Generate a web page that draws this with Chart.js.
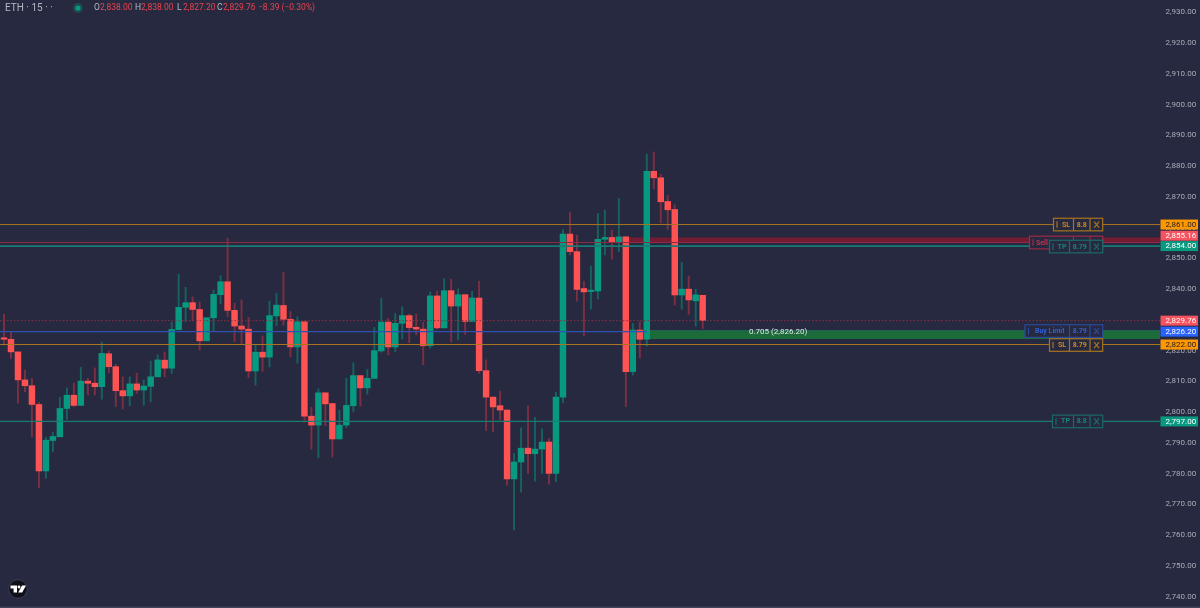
<!DOCTYPE html>
<html>
<head>
<meta charset="utf-8">
<title>ETH 15</title>
<script src="https://cdn.jsdelivr.net/npm/chart.js@4"></script>
<style>
  html, body { margin: 0; padding: 0; background: #26293f; overflow: hidden; }
  canvas { display: block; }
</style>
</head>
<body>
<canvas id="chart" width="1200" height="608"></canvas>
<script>
const opens = [
  2824.0,2823.7,2819.6,2810.5,2808.6,2802.5,2780.9,2790.8,2792.0,2801.2,
  2805.5,2802.2,2810.1,2809.4,2808.3,2819.0,2814.8,2807.0,2805.3,2809.2,
  2807.2,2808.4,2811.5,2816.9,2814.3,2826.8,2834.1,2835.6,2833.4,2823.2,
  2830.7,2838.2,2842.4,2833.1,2828.0,2827.0,2813.4,2819.5,2817.9,2831.3,
  2834.7,2830.2,2821.2,2829.4,2798.7,2795.8,2806.3,2802.8,2791.3,2795.8,
  2802.1,2811.9,2807.9,2811.0,2819.9,2829.3,2821.2,2828.9,2831.4,2827.6,
  2827.0,2821.6,2837.8,2827.4,2839.5,2834.5,2838.2,2829.5,2837.1,2813.5,
  2804.9,2802.1,2800.7,2778.3,2783.8,2788.3,2786.5,2788.0,2790.3,2780.1,
  2804.9,2857.9,2852.2,2840.2,2839.2,2839.4,2856.2,2856.8,2855.1,2857.0,
  2813.2,2826.7,2823.7,2878.3,2876.2,2868.5,2865.9,2838.1,2840.0,2836.2,
  2838.00
];
const highs = [
  2831.8,2826.2,2819.6,2813.7,2811.0,2803.2,2791.8,2793.4,2804.8,2807.9,
  2809.4,2814.6,2811.0,2814.4,2822.8,2819.9,2815.6,2811.5,2811.5,2812.7,
  2810.5,2816.6,2818.7,2819.6,2829.3,2844.9,2840.6,2837.5,2835.9,2830.7,
  2839.7,2844.4,2856.6,2835.4,2836.5,2830.8,2821.8,2824.8,2836.1,2838.6,
  2845.5,2832.7,2831.0,2829.4,2801.6,2807.6,2806.3,2802.8,2800.7,2811.0,
  2816.1,2811.9,2813.9,2827.5,2837.0,2830.5,2832.1,2834.3,2831.9,2831.9,
  2829.2,2839.1,2839.4,2843.4,2843.2,2840.1,2838.2,2839.3,2842.6,2817.0,
  2804.9,2806.8,2800.7,2786.6,2794.9,2802.0,2798.3,2794.6,2791.4,2806.5,
  2859.4,2865.0,2857.6,2842.6,2847.5,2864.6,2865.7,2859.2,2869.5,2857.0,
  2828.9,2829.4,2883.9,2884.6,2877.3,2870.5,2867.4,2848.7,2844.3,2840.0,
  2838.00
];
const lows = [
  2821.8,2817.4,2802.9,2806.6,2792.0,2775.4,2778.5,2787.1,2792.0,2797.7,
  2801.8,2802.2,2805.6,2805.6,2804.2,2812.8,2801.8,2801.0,2802.1,2806.1,
  2802.3,2803.4,2811.5,2811.5,2812.6,2826.8,2829.4,2829.7,2820.2,2823.2,
  2826.2,2835.2,2831.0,2822.9,2822.2,2811.2,2808.8,2813.2,2814.7,2828.1,
  2828.3,2818.0,2815.9,2796.7,2788.0,2785.2,2795.6,2785.4,2791.3,2794.9,
  2800.2,2802.0,2805.9,2811.0,2819.5,2818.6,2819.7,2823.8,2822.6,2825.1,
  2815.4,2820.8,2827.0,2827.4,2822.8,2823.6,2825.3,2829.5,2812.6,2794.0,
  2793.6,2797.5,2776.2,2761.7,2774.0,2780.1,2777.6,2780.1,2776.6,2777.4,
  2803.1,2851.1,2836.1,2824.9,2833.5,2836.8,2851.1,2849.7,2852.2,2801.8,
  2812.1,2817.6,2821.5,2872.6,2861.5,2859.4,2834.8,2833.5,2831.8,2828.0,
  2827.20
];
const closes = [
  2823.7,2819.6,2810.5,2808.6,2802.5,2780.9,2790.9,2792.1,2801.2,2805.5,
  2802.2,2810.1,2809.4,2808.3,2819.1,2814.8,2807.0,2805.3,2809.2,2807.2,
  2808.5,2811.5,2817.0,2814.3,2826.9,2834.1,2835.6,2833.4,2823.2,2830.7,
  2838.3,2842.4,2833.1,2828.0,2827.0,2813.4,2819.5,2817.9,2831.4,2834.8,
  2830.2,2821.2,2829.4,2798.7,2795.8,2806.3,2802.7,2791.3,2795.8,2802.2,
  2811.9,2807.9,2811.0,2820.0,2829.3,2821.2,2828.9,2831.4,2827.5,2827.0,
  2821.6,2837.8,2827.4,2839.5,2834.5,2838.2,2829.5,2837.1,2813.5,2804.9,
  2801.7,2800.7,2778.3,2783.8,2788.3,2786.5,2788.0,2790.3,2780.1,2804.9,
  2857.9,2852.2,2839.9,2839.1,2839.4,2856.2,2856.8,2855.1,2857.0,2813.2,
  2826.7,2823.7,2878.3,2876.2,2868.4,2865.8,2838.1,2840.0,2836.5,2838.15,
  2829.76
];

// stop, target and pending levels with the tag shown on the price axis
const levelValues = [2861.00, 2855.16, 2854.00, 2829.76, 2826.20, 2822.00, 2797.00];
const levelColors = ['#a8741f', '#8c2b45', '#1a7a74', '#8c3040', '#2f50b0', '#a8741f', '#1a7a74'];
const levelWidths = [1, 1.2, 1.8, 1, 1.2, 1, 1.2];
const tagFills = ['#ff9800', '#f7525f', '#089981', '#f7525f', '#2962ff', '#ff9800', '#089981'];
const tagTexts = ['#1a1c2c', '#ffffff', '#ffffff', '#ffffff', '#ffffff', '#1a1c2c', '#ffffff'];
const tagShift = [0, -6.8, 0, 0, 0, 0, 0];
// the pending buy line stops where its zone starts
const levelEnds = [null, null, null, null, 92, null, null];

// the two shaded zones: [first candle, top, bottom]
const sellZone = [89, 2856.8, 2855.16];
const buyZone = [92, 2826.5, 2823.8];

// order widgets: label, size, colour, value they sit on, x edges
const orderLabels = ['Sell', 'Buy Limit', 'SL', 'TP', 'SL', 'TP'];
const orderSizes = ['', '8.79', '8.8', '8.79', '8.79', '8.8'];
const orderColors = ['#9c2c48', '#2c4a9e', '#a8741f', '#1d6a68', '#a8741f', '#1d6a68'];
const orderTexts = ['#c8324f', '#3560d0', '#d08a18', '#12867a', '#d08a18', '#12867a'];
const orderPrices = [2855.16, 2826.20, 2861.00, 2854.00, 2822.00, 2797.00];
const orderLefts = [1029.5, 1025, 1053.5, 1049.5, 1049.5, 1052.5];
const orderDividers = [1073.5, 1069.5, 1073.5, 1069.5, 1069.5, 1073.5];
const orderNudges = [0, -0.5, 0, 0.5, 0.5, 0];

const zoneLabel = '0.705 (2,826.20)';
const BG = '#26293f';
const UP = '#089981', DOWN = '#ff5252';
const UP_WICK = '#17615f', DOWN_WICK = '#7c2f42';
const X_MIN = -0.57, X_MAX = 165.45;

const fmt = v => v.toLocaleString('en-US', { minimumFractionDigits: 2, maximumFractionDigits: 2 });
const isUp = i => closes[i] >= opens[i];
const idx = opens.map((_, i) => i);

const hline = (v, from, to = X_MAX) => [{ x: from, y: v }, { x: to, y: v }];

const datasets = [
  // zones sit behind the candles
  { type: 'line', data: hline(sellZone[1], sellZone[0]), borderWidth: 0, pointRadius: 0, fill: '+1', backgroundColor: '#741c33', order: 20 },
  { type: 'line', data: hline(sellZone[2], sellZone[0]), borderWidth: 0, pointRadius: 0, order: 20 },
  { type: 'line', data: hline(buyZone[1], buyZone[0]), borderWidth: 1, borderColor: '#1d6a58', pointRadius: 0, fill: '+1', backgroundColor: '#1c6b3a', order: 20 },
  { type: 'line', data: hline(buyZone[2], buyZone[0]), borderWidth: 0, pointRadius: 0, order: 20 },
  {
    type: 'bar', grouped: false, order: 10, barThickness: 1.3,
    data: idx.map(i => ({ x: i, y: [lows[i], highs[i]] })),
    backgroundColor: idx.map(i => isUp(i) ? UP_WICK : DOWN_WICK)
  },
  {
    type: 'bar', grouped: false, order: 9, barThickness: 5.8, minBarLength: 1.5,
    data: idx.map(i => ({ x: i, y: [opens[i], closes[i]] })),
    backgroundColor: idx.map(i => isUp(i) ? UP : DOWN)
  }
];

// horizontal levels go over the candles
levelValues.forEach((v, k) => {
  datasets.push({
    type: 'line', order: 5, data: hline(v, X_MIN, levelEnds[k] ?? X_MAX), pointRadius: 0,
    borderColor: levelColors[k], borderWidth: levelWidths[k],
    borderDash: v === closes[closes.length - 1] ? [1.5, 2] : []
  });
});

function orderWidget(ctx, k, yScale) {
  const right = 1102.7, xBtn = 1090;
  const left = orderLefts[k], div = orderDividers[k];
  const yc = yScale.getPixelForValue(orderPrices[k]) + orderNudges[k];
  const h = 12.6, top = yc - h / 2;
  ctx.save();
  ctx.fillStyle = BG;
  ctx.fillRect(left, top, right - left, h);
  ctx.strokeStyle = orderColors[k];
  ctx.lineWidth = 1.2;
  ctx.strokeRect(left, top, right - left, h);
  ctx.beginPath();
  ctx.moveTo(div, top); ctx.lineTo(div, top + h);
  ctx.moveTo(xBtn, top); ctx.lineTo(xBtn, top + h);
  // small drag handle
  ctx.moveTo(left + 3.5, top + 3); ctx.lineTo(left + 3.5, top + h - 3);
  // close cross
  ctx.moveTo(right - 8.6, yc - 3); ctx.lineTo(right - 3.6, yc + 3);
  ctx.moveTo(right - 3.6, yc - 3); ctx.lineTo(right - 8.6, yc + 3);
  ctx.stroke();
  ctx.fillStyle = orderTexts[k];
  ctx.font = 'bold 7px Roboto';
  ctx.textBaseline = 'middle';
  ctx.textAlign = k === 0 ? 'left' : 'center';
  ctx.fillText(orderLabels[k], k === 0 ? left + 6.5 : (left + 5 + div) / 2, yc + 0.3);
  ctx.textAlign = 'center';
  if (orderSizes[k]) ctx.fillText(orderSizes[k], (div + xBtn) / 2, yc + 0.3);
  ctx.restore();
}

const overlay = {
  id: 'overlay',
  afterDatasetsDraw(chart) {
    const { ctx, scales: { y } } = chart;
    ctx.save();

    // zone caption
    ctx.fillStyle = '#e6e7ec';
    ctx.font = '8px Roboto';
    ctx.textAlign = 'left';
    ctx.textBaseline = 'middle';
    ctx.fillText(zoneLabel, 749, y.getPixelForValue(levelValues[4]) + 0.2);

    // order widgets, in stacking order
    orderLabels.forEach((_, k) => orderWidget(ctx, k, y));

    // price tags on the axis
    levelValues.forEach((v, k) => {
      const yc = y.getPixelForValue(v) + tagShift[k];
      ctx.fillStyle = tagFills[k];
      ctx.fillRect(1160.5, yc - 5, 37.5, 10);
      ctx.fillStyle = tagTexts[k];
      ctx.font = '8px Roboto';
      ctx.textAlign = 'left';
      ctx.fillText(fmt(v), 1165.5, yc + 0.3);
    });

    // symbol header
    const last = opens.length - 1, prev = closes[last - 1];
    const change = closes[last] - prev;
    ctx.textAlign = 'left';
    ctx.fillStyle = '#b6b9c4';
    ctx.font = '10px Roboto';
    ctx.fillText('ETH · 15 · ·', 5, 8);
    ctx.fillStyle = '#1e4a50';
    ctx.beginPath(); ctx.arc(78, 8, 5, 0, Math.PI * 2); ctx.fill();
    ctx.fillStyle = '#089981';
    ctx.beginPath(); ctx.arc(78, 8, 2.6, 0, Math.PI * 2); ctx.fill();
    const parts = [['O', opens[last], 94], ['H', highs[last], 135], ['L', lows[last], 177], ['C', closes[last], 217]];
    ctx.font = '8.5px Roboto';
    parts.forEach(([name, val, px]) => {
      ctx.fillStyle = '#b6b9c4';
      ctx.fillText(name, px, 8);
      ctx.fillStyle = '#e8444f';
      ctx.fillText(fmt(val), px + 6, 8);
    });
    const sign = change < 0 ? '−' : '+';
    const pct = Math.abs(change / prev * 100).toFixed(2);
    ctx.fillText(`${sign}${Math.abs(change).toFixed(2)} (${sign}${pct}%)`, 258, 8);

    // bottom edge and logo badge
    ctx.fillStyle = '#41435a';
    ctx.fillRect(0, 606.5, 1200, 1.5);
    ctx.beginPath(); ctx.arc(18, 589, 10, 0, Math.PI * 2);
    ctx.fillStyle = '#343650'; ctx.fill();
    ctx.beginPath(); ctx.arc(18, 589, 8.8, 0, Math.PI * 2);
    ctx.fillStyle = '#0f1017'; ctx.fill();
    ctx.fillStyle = '#ffffff';
    ctx.beginPath();
    ctx.moveTo(10.5, 585.5); ctx.lineTo(17, 585.5); ctx.lineTo(17, 592.5); ctx.lineTo(13.6, 592.5);
    ctx.lineTo(13.6, 588.6); ctx.lineTo(10.5, 588.6); ctx.closePath(); ctx.fill();
    ctx.beginPath(); ctx.arc(19, 587, 1.4, 0, Math.PI * 2); ctx.fill();
    ctx.beginPath();
    ctx.moveTo(22, 585.5); ctx.lineTo(26, 585.5); ctx.lineTo(22.2, 592.5); ctx.lineTo(18.2, 592.5); ctx.closePath(); ctx.fill();
    ctx.restore();
  }
};

new Chart(document.getElementById('chart'), {
  data: { datasets },
  plugins: [overlay],
  options: {
    responsive: false,
    animation: false,
    parsing: { xAxisKey: 'x', yAxisKey: 'y' },
    layout: { padding: 0 },
    plugins: { legend: { display: false }, tooltip: { enabled: false } },
    scales: {
      x: { type: 'linear', min: X_MIN, max: X_MAX, display: false, offset: false },
      y: {
        position: 'right',
        min: 2736.34,
        max: 2934.0,
        // keep the plot edge to edge, no room reserved for half a label
        afterFit(s) { s.width = 40; s.paddingTop = 0; s.paddingBottom = 0; },
        grid: { display: false, drawTicks: false },
        border: { display: false },
        ticks: {
          stepSize: 10,
          includeBounds: false,
          autoSkip: false,
          maxRotation: 0,
          padding: 5.5,
          color: '#a9acb8',
          font: { family: 'Roboto', size: 8 },
          callback: v => fmt(v)
        }
      }
    }
  }
});
</script>
</body>
</html>
